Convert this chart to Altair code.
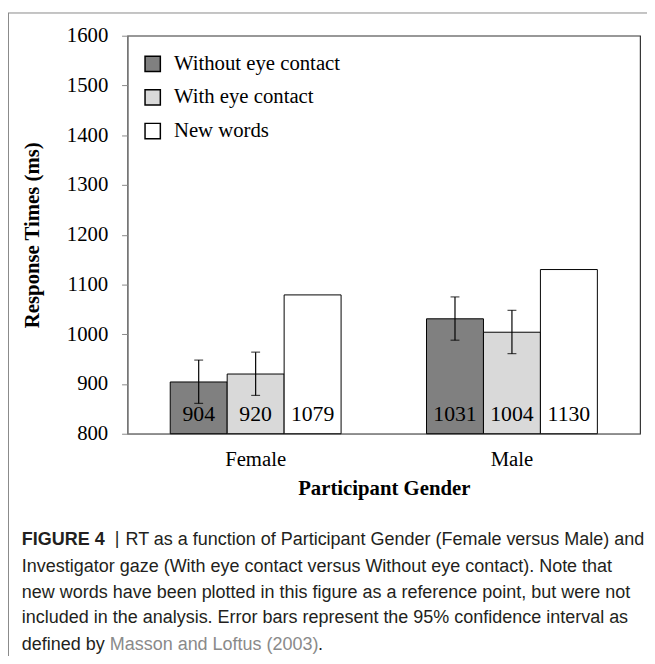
import altair as alt
import pandas as pd

# ---------------- data ----------------
genders = ["Female", "Male"]
conditions = ["Without eye contact", "With eye contact", "New words"]
female_rt = [904, 920, 1079]
male_rt = [1031, 1004, 1130]
female_ci_low = [861, 877, None]
female_ci_high = [948, 964, None]
male_ci_low = [988, 961, None]
male_ci_high = [1075, 1048, None]
y_ticks = [800, 900, 1000, 1100, 1200, 1300, 1400, 1500, 1600]
bar_colors = ["#808080", "#d9d9d9", "#ffffff"]

caption_bold = "FIGURE 4"
caption_sep = "|"
caption_line1 = "RT as a function of Participant Gender (Female versus Male) and"
caption_lines = [
    "Investigator gaze (With eye contact versus Without eye contact). Note that",
    "new words have been plotted in this figure as a reference point, but were not",
    "included in the analysis. Error bars represent the 95% confidence interval as",
]
caption_last_a = "defined by"
caption_last_ref = "Masson and Loftus (2003)"
caption_last_b = "."

rows = []
for g, rts, lo, hi in [("Female", female_rt, female_ci_low, female_ci_high),
                       ("Male", male_rt, male_ci_low, male_ci_high)]:
    for c, v, l, h in zip(conditions, rts, lo, hi):
        rows.append({"gender": g, "condition": c, "rt": v, "lo": l, "hi": h})
df = pd.DataFrame(rows)

SERIF = "Liberation Serif"
CAP_FONT = "Liberation Sans"
CAP_SIZE = 18.2

x_enc = alt.X(
    "gender:N",
    scale=alt.Scale(domain=genders, paddingInner=1 / 3, paddingOuter=1 / 6),
    axis=alt.Axis(
        title="Participant Gender", labelAngle=0, ticks=False, tickSize=0,
        labelPadding=15, titlePadding=9, labelFont=SERIF, labelFontSize=21,
        labelColor="black", titleFont=SERIF, titleFontSize=21,
        titleFontWeight="bold", titleColor="black", domainColor="#888888",
        domainWidth=1.2,
    ),
)
xoff = alt.XOffset("condition:N",
                   scale=alt.Scale(domain=conditions, paddingInner=0, paddingOuter=0))
y_scale = alt.Scale(domain=[800, 1600], nice=False, zero=False)

base = alt.Chart(df)

bars = base.mark_bar(stroke="black", strokeWidth=1).encode(
    x=x_enc,
    xOffset=xoff,
    y=alt.Y(
        "rt:Q", scale=y_scale,
        axis=alt.Axis(
            values=y_ticks, format="d", title="Response Times (ms)", grid=False,
            tickSize=6, labelPadding=14, titlePadding=24, labelFont=SERIF,
            labelFontSize=21, labelColor="black", titleFont=SERIF,
            titleFontSize=21, titleFontWeight="bold", titleColor="black",
            domainColor="#888888", tickColor="#888888", domainWidth=1.2,
        ),
    ),
    y2=alt.datum(800),
    fill=alt.Fill(
        "condition:N",
        scale=alt.Scale(domain=conditions, range=bar_colors),
        legend=alt.Legend(
            title=None, orient="none", legendX=15, legendY=18,
            symbolType="square", symbolSize=240, symbolStrokeColor="black",
            symbolStrokeWidth=1.5, labelFont=SERIF, labelFontSize=21,
            labelColor="black", labelOffset=11, rowPadding=11, padding=0,
            labelLimit=400,
        ),
    ),
)

err = base.transform_filter("isValid(datum.lo)")
err_rule = err.mark_rule(color="black", strokeWidth=1.2).encode(
    x="gender:N", xOffset="condition:N", y="lo:Q", y2="hi:Q")
cap_lo = err.mark_tick(color="black", size=9, thickness=1.2).encode(
    x="gender:N", xOffset="condition:N", y="lo:Q")
cap_hi = err.mark_tick(color="black", size=9, thickness=1.2).encode(
    x="gender:N", xOffset="condition:N", y="hi:Q")

labels = base.mark_text(font=SERIF, fontSize=22, color="black",
                        baseline="alphabetic", dy=-13).encode(
    x="gender:N", xOffset="condition:N", y=alt.datum(800), text="rt:Q")

one = pd.DataFrame({"k": [0]})


def txt(s, x, y, color="#231f20", **kw):
    return alt.Chart(one).mark_text(text=s, align="left", baseline="alphabetic",
                                    font=CAP_FONT, fontSize=CAP_SIZE,
                                    color=color, **kw).encode(
        x=alt.value(x), y=alt.value(y))


frame_top = alt.Chart(one).mark_rule(color="#888888", strokeWidth=1).encode(
    x=alt.value(-121), x2=alt.value(526), y=alt.value(-23))
frame_left = alt.Chart(one).mark_rule(color="#888888", strokeWidth=1).encode(
    x=alt.value(-120.5), y=alt.value(-23), y2=alt.value(640))

cap_layers = [
    txt(caption_bold, -107, 516, fontWeight="bold"),
    txt(caption_sep, -13, 515),
    txt(caption_line1, -2, 516),
    txt(caption_lines[0], -107, 542.5),
    txt(caption_lines[1], -107, 569),
    txt(caption_lines[2], -107, 595),
    txt(caption_last_a, -107, 621.5),
    txt(caption_last_ref, -18, 621.5, color="#8a8a8a"),
    txt(caption_last_b, 193, 621.5),
]

chart = alt.layer(
    bars, err_rule, cap_lo, cap_hi, labels, frame_top, frame_left, *cap_layers
).properties(
    width=519, height=403, autosize="none",
    padding={"left": 121, "top": 24, "right": 7, "bottom": 221},
).configure_view(stroke="#333333", strokeWidth=1.2)

chart.save("out.html", embed_options={"renderer": "svg", "actions": False})
